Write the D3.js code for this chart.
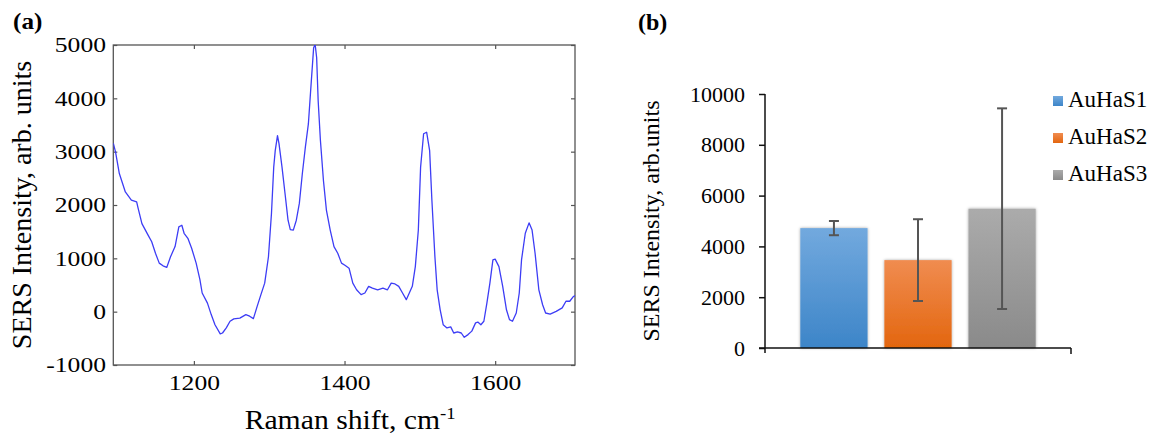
<!DOCTYPE html>
<html>
<head>
<meta charset="utf-8">
<script src="https://cdn.jsdelivr.net/npm/d3@7"></script>
<style>
  html, body { margin: 0; padding: 0; background: #fff; }
  svg { display: block; }
  text { font-family: "Liberation Serif", "Times New Roman", serif; fill: #000; }
</style>
</head>
<body>
<svg id="chart" width="1149" height="435"></svg>
<script>
// ---------- Panel (a): SERS spectrum ----------
const ramanShift = [1093,1096,1101,1109,1117,1124,1126,1131,1139,1144,1149,1154,1159,1164,1169,1175,1180,1184,1187,1192,1197,1203,1208,1211,1218,1223,1228,1235,1238,1243,1248,1253,1261,1269,1274,1279,1284,1289,1294,1299,1303,1306,1308,1311,1313,1317,1321,1325,1328,1332,1336,1340,1344,1348,1352,1355,1359,1361,1363,1365,1368,1372,1376,1381,1386,1391,1396,1401,1406,1411,1416,1422,1427,1432,1437,1444,1451,1457,1462,1467,1472,1477,1482,1486,1490,1494,1498,1501,1505,1509,1513,1516,1520,1523,1527,1531,1536,1541,1545,1550,1555,1559,1564,1569,1574,1577,1581,1585,1589,1593,1597,1600,1605,1610,1615,1619,1623,1628,1632,1635,1640,1645,1649,1653,1658,1663,1667,1673,1681,1689,1694,1699,1704,1706];
const sersIntensity = [3160,2990,2590,2245,2090,2060,1935,1650,1440,1310,1095,910,860,830,1030,1220,1590,1620,1470,1375,1190,910,600,350,160,-55,-245,-415,-400,-305,-180,-135,-120,-55,-85,-130,100,320,535,1030,1840,2710,3020,3300,3150,2710,2215,1715,1540,1530,1715,2030,2590,3085,3520,4140,4950,5010,4760,3955,3210,2460,1900,1530,1220,1095,910,865,815,535,410,320,350,475,440,410,440,410,535,520,475,350,225,350,475,845,1530,2710,3335,3365,3020,2090,1030,410,35,-245,-305,-285,-400,-380,-400,-480,-430,-365,-210,-195,-245,-180,160,535,970,985,845,475,35,-150,-180,-25,350,970,1470,1665,1530,1095,410,130,-25,-45,5,70,195,195,285,300];
const specXTicks = [1200, 1400, 1600];
const specYTicks = [-1000, 0, 1000, 2000, 3000, 4000, 5000];
const specXDomain = [1093, 1706];
const specYDomain = [-1000, 5000];

// ---------- Panel (b): bar chart ----------
const samples = ["AuHaS1", "AuHaS2", "AuHaS3"];
const meanIntensity = [4720, 3460, 5485];
const stdIntensity = [280, 1610, 3950];
const barYTicks = [0, 2000, 4000, 6000, 8000, 10000];
const barColorsTop = ["#72a9de", "#f08c50", "#ababab"];
const barColorsBottom = ["#3d85c8", "#e3660f", "#8a8a8a"];

const svg = d3.select("#chart");
const defs = svg.append("defs");

// ===== Panel (a) =====
const A = {left: 113.3, right: 575, top: 45, bottom: 365};
const xA = d3.scaleLinear().domain(specXDomain).range([A.left, A.right]);
const yA = d3.scaleLinear().domain(specYDomain).range([A.bottom, A.top]);
const stretch = 1.22;

const gA = svg.append("g");
defs.append("clipPath").attr("id", "clipA").append("rect")
  .attr("x", A.left).attr("y", A.top).attr("width", A.right - A.left).attr("height", A.bottom - A.top);

const fmt = d => String(d);
const axB = gA.append("g").attr("transform", `translate(0,${A.bottom})`)
  .call(d3.axisBottom(xA).tickValues(specXTicks).tickSizeInner(-4).tickSizeOuter(0).tickPadding(10).tickFormat(fmt));
const axL = gA.append("g").attr("transform", `translate(${A.left},0)`)
  .call(d3.axisLeft(yA).tickValues(specYTicks).tickSizeInner(-4).tickSizeOuter(0).tickPadding(6).tickFormat(fmt));
const axT = gA.append("g").attr("transform", `translate(0,${A.top})`)
  .call(d3.axisTop(xA).tickValues(specXTicks).tickSizeInner(-4).tickSizeOuter(0).tickFormat(""));
const axR = gA.append("g").attr("transform", `translate(${A.right},0)`)
  .call(d3.axisRight(yA).tickValues(specYTicks).tickSizeInner(-4).tickSizeOuter(0).tickFormat(""));
[axB, axL, axT, axR].forEach(g => {
  g.select(".domain").remove();
  g.selectAll(".tick line").attr("stroke", "#555").attr("stroke-width", 1.2);
});
[axB, axL].forEach(g => {
  g.selectAll(".tick text")
    .attr("font-size", 21).attr("fill", "#111")
    .attr("transform", `scale(${stretch},1)`);
});

gA.append("rect")
  .attr("x", A.left).attr("y", A.top).attr("width", A.right - A.left).attr("height", A.bottom - A.top)
  .attr("fill", "none").attr("stroke", "#555").attr("stroke-width", 1.3);

const spec = ramanShift.map((v, i) => [v, sersIntensity[i]]);
gA.append("path").datum(spec)
  .attr("clip-path", "url(#clipA)")
  .attr("fill", "none").attr("stroke", "#3d3df5").attr("stroke-width", 1.3)
  .attr("stroke-linejoin", "round")
  .attr("d", d3.line().x(d => xA(d[0])).y(d => yA(d[1])));

// x label
const xl = gA.append("text")
  .attr("transform", `translate(${(A.left + A.right) / 2 + 6},429) scale(1.1,1)`)
  .attr("text-anchor", "middle").attr("font-size", 27);
xl.append("tspan").text("Raman shift, cm");
xl.append("tspan").attr("font-size", 17).attr("dy", -10).text("-1");

// y label
gA.append("text")
  .attr("transform", `translate(31,${(A.top + A.bottom) / 2}) rotate(-90)`)
  .attr("text-anchor", "middle").attr("font-size", 28)
  .text("SERS Intensity, arb. units");

// panel label
gA.append("text").attr("transform", `translate(13,29) scale(1.05,1)`)
  .attr("font-size", 24).attr("font-weight", "bold").text("(a)");

// ===== Panel (b) =====
const B = {left: 765, right: 1071, top: 94, bottom: 348};
const xB = d3.scaleBand().domain(samples).range([B.left, B.right]).paddingInner(0.2).paddingOuter(0.42);
const yB = d3.scaleLinear().domain([0, 10000]).range([B.bottom, B.top]);
const gB = svg.append("g");

samples.forEach((s, i) => {
  const g = defs.append("linearGradient").attr("id", "grad" + i)
    .attr("x1", 0).attr("y1", 0).attr("x2", 0).attr("y2", 1);
  g.append("stop").attr("offset", "0%").attr("stop-color", barColorsTop[i]);
  g.append("stop").attr("offset", "100%").attr("stop-color", barColorsBottom[i]);
});
const f = defs.append("filter").attr("id", "shadow").attr("x", "-20%").attr("y", "-20%").attr("width", "140%").attr("height", "140%");
f.append("feDropShadow").attr("dx", 0).attr("dy", 0).attr("stdDeviation", 1.6).attr("flood-color", "#000").attr("flood-opacity", 0.35);

gB.append("g").selectAll("rect").data(samples).join("rect")
  .attr("x", d => xB(d)).attr("width", xB.bandwidth())
  .attr("y", (d, i) => yB(meanIntensity[i]))
  .attr("height", (d, i) => yB(0) - yB(meanIntensity[i]))
  .attr("fill", (d, i) => `url(#grad${i})`)
  .attr("filter", "url(#shadow)");

// error bars
const eb = gB.append("g").attr("stroke", "#555").attr("stroke-width", 2);
samples.forEach((s, i) => {
  const cx = xB(s) + xB.bandwidth() / 2;
  const hi = yB(meanIntensity[i] + stdIntensity[i]);
  const lo = yB(meanIntensity[i] - stdIntensity[i]);
  eb.append("line").attr("x1", cx).attr("x2", cx).attr("y1", hi).attr("y2", lo);
  eb.append("line").attr("x1", cx - 5).attr("x2", cx + 5).attr("y1", hi).attr("y2", hi);
  eb.append("line").attr("x1", cx - 5).attr("x2", cx + 5).attr("y1", lo).attr("y2", lo);
});

// y axis
const axBL = gB.append("g").attr("transform", `translate(${B.left},0)`)
  .call(d3.axisLeft(yB).tickValues(barYTicks).tickSizeInner(6).tickSizeOuter(0).tickPadding(14).tickFormat(fmt));
axBL.select(".domain").remove();
axBL.selectAll(".tick line").attr("stroke", "#111").attr("stroke-width", 1.5);
axBL.selectAll(".tick text").attr("font-size", 22).attr("fill", "#111");
gB.append("line").attr("x1", B.left).attr("x2", B.left).attr("y1", B.top).attr("y2", B.bottom + 5)
  .attr("stroke", "#111").attr("stroke-width", 1.5);
// x axis
gB.append("line").attr("x1", B.left - 6).attr("x2", B.right).attr("y1", B.bottom).attr("y2", B.bottom)
  .attr("stroke", "#111").attr("stroke-width", 1.6);
gB.append("line").attr("x1", B.right).attr("x2", B.right).attr("y1", B.bottom).attr("y2", B.bottom + 6)
  .attr("stroke", "#111").attr("stroke-width", 1.5);

// y label
gB.append("text")
  .attr("transform", `translate(659,${(B.top + B.bottom) / 2}) rotate(-90)`)
  .attr("text-anchor", "middle").attr("font-size", 24)
  .text("SERS Intensity, arb.units");

// legend
const leg = gB.append("g");
samples.forEach((s, i) => {
  const yy = 107 + i * 37;
  leg.append("rect").attr("x", 1053).attr("y", yy - 11).attr("width", 10).attr("height", 10)
    .attr("fill", `url(#grad${i})`);
  leg.append("text").attr("x", 1068).attr("y", yy).attr("font-size", 23).text(s);
});

// panel label
gB.append("text").attr("x", 638).attr("y", 30)
  .attr("font-size", 24).attr("font-weight", "bold").text("(b)");
</script>
</body>
</html>
